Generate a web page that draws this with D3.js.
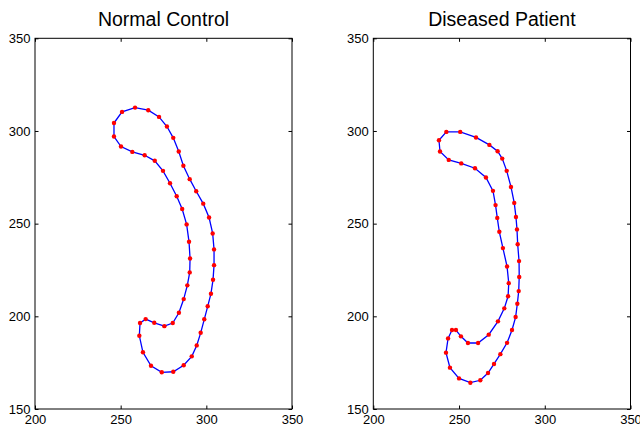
<!DOCTYPE html>
<html>
<head>
<meta charset="utf-8">
<script src="https://cdn.jsdelivr.net/npm/d3@7"></script>
<style>
  html, body { margin: 0; padding: 0; background: #fff; }
  svg { display: block; }
  text { font-family: "Liberation Sans", Arial, Helvetica, sans-serif; fill: #000; }
</style>
</head>
<body>
<svg id="chart" width="640" height="425"></svg>
<script>
// Ventricle contour samples (closed outlines, listed in drawing order)
const controlX = [246.1, 250.8, 258.4, 266.1, 272.4, 277.0, 280.7, 283.9, 286.6, 290.3,
                  294.1, 298.2, 301.6, 303.7, 304.5, 304.5, 303.9, 302.7, 300.8, 298.8,
                  296.7, 294.4, 291.5, 286.8, 280.7, 274.0, 267.7, 263.0, 260.9, 261.3,
                  264.6, 269.6, 275.5, 280.4, 284.0, 286.8, 288.9, 290.3, 290.5, 289.9,
                  288.5, 285.9, 282.7, 278.8, 274.7, 269.9, 264.0, 256.8, 250.2, 246.1];
const controlY = [304.3, 310.3, 312.6, 311.2, 307.6, 302.4, 296.3, 288.9, 281.2, 274.0,
                  267.5, 260.8, 253.3, 244.7, 236.1, 227.6, 219.7, 212.2, 205.4, 198.4,
                  191.1, 184.3, 178.4, 173.6, 170.1, 169.8, 173.3, 180.6, 189.5, 196.4,
                  198.5, 196.5, 194.7, 196.4, 201.9, 209.3, 216.7, 223.7, 231.2, 240.2,
                  249.6, 257.9, 264.8, 271.8, 278.5, 283.9, 286.9, 288.7, 291.6, 297.0];

const patientX = [238.3, 242.6, 250.7, 259.9, 267.7, 272.5, 275.2, 277.8, 280.3, 282.2,
                  283.2, 283.8, 284.2, 285.0, 285.1, 284.8, 284.0, 283.0, 280.9, 278.0,
                  274.1, 270.4, 266.9, 262.4, 256.6, 250.0, 244.7, 242.4, 243.6, 245.9,
                  248.2, 251.1, 255.2, 261.1, 267.3, 272.7, 276.4, 278.6, 279.0, 278.0,
                  275.6, 273.5, 272.3, 271.3, 269.8, 265.7, 259.3, 251.3, 244.0, 238.9];
const patientY = [295.0, 299.5, 299.5, 296.5, 292.5, 289.1, 285.1, 278.5, 269.8, 261.2,
                  253.6, 246.9, 238.9, 229.8, 221.2, 213.6, 206.8, 199.6, 192.6, 185.7,
                  179.6, 174.3, 169.4, 165.5, 164.2, 166.5, 172.3, 180.4, 188.1, 192.6,
                  192.6, 189.2, 185.6, 185.6, 190.1, 197.3, 204.3, 210.8, 217.9, 226.9,
                  236.8, 245.6, 253.1, 260.0, 267.7, 274.9, 279.9, 282.5, 284.4, 288.9];

const panelTitles = ["Normal Control", "Diseased Patient"];
const xTicks = [200, 250, 300, 350];
const yTicks = [150, 200, 250, 300, 350];
const xDomain = [200, 350];
const yDomain = [150, 350];

const svg = d3.select("#chart");

const panels = [
  { title: panelTitles[0], xs: controlX, ys: controlY, left: 35, right: 292 },
  { title: panelTitles[1], xs: patientX, ys: patientY, left: 373.3, right: 630.5 }
];
const plotTop = 38.3, plotBottom = 409;
const tickLen = 3.5;

panels.forEach(p => {
  const x = d3.scaleLinear().domain(xDomain).range([p.left, p.right]);
  const y = d3.scaleLinear().domain(yDomain).range([plotBottom, plotTop]);
  const g = svg.append("g");

  // axes box with inward ticks on all four sides
  const styleAxis = sel => {
    sel.select(".domain").remove();
    sel.selectAll(".tick line").attr("stroke", "#000").attr("stroke-width", 1);
    sel.selectAll("text").style("font-size", "13px")
      .style("font-family", "'Liberation Sans', Arial, Helvetica, sans-serif");
  };
  g.append("g").attr("transform", `translate(0,${plotBottom})`)
    .call(d3.axisBottom(x).tickValues(xTicks).tickSize(-tickLen).tickPadding(6.2).tickFormat(d3.format("d")))
    .call(styleAxis);
  g.append("g").attr("transform", `translate(0,${plotTop})`)
    .call(d3.axisTop(x).tickValues(xTicks).tickSize(-tickLen).tickFormat(""))
    .call(styleAxis);
  g.append("g").attr("transform", `translate(${p.left},0)`)
    .call(d3.axisLeft(y).tickValues(yTicks).tickSize(-tickLen).tickPadding(4.5).tickFormat(d3.format("d")))
    .call(styleAxis);
  g.append("g").attr("transform", `translate(${p.right},0)`)
    .call(d3.axisRight(y).tickValues(yTicks).tickSize(-tickLen).tickFormat(""))
    .call(styleAxis);
  g.append("rect")
    .attr("x", p.left).attr("y", plotTop)
    .attr("width", p.right - p.left).attr("height", plotBottom - plotTop)
    .attr("fill", "none").attr("stroke", "#000").attr("stroke-width", 1);

  // contour
  const pts = p.xs.map((v, i) => [v, p.ys[i]]);
  const line = d3.line().x(d => x(d[0])).y(d => y(d[1])).curve(d3.curveLinearClosed);
  g.append("path").attr("d", line(pts))
    .attr("fill", "none").attr("stroke", "#0000ff").attr("stroke-width", 1.3);

  g.selectAll("circle.pt").data(pts).enter().append("circle")
    .attr("class", "pt")
    .attr("cx", d => x(d[0])).attr("cy", d => y(d[1]))
    .attr("r", 2.2).attr("fill", "#ff0000");

  g.append("text")
    .attr("x", (p.left + p.right) / 2).attr("y", 26)
    .attr("text-anchor", "middle")
    .style("font-size", "19.5px")
    .text(p.title);
});
</script>
</body>
</html>
